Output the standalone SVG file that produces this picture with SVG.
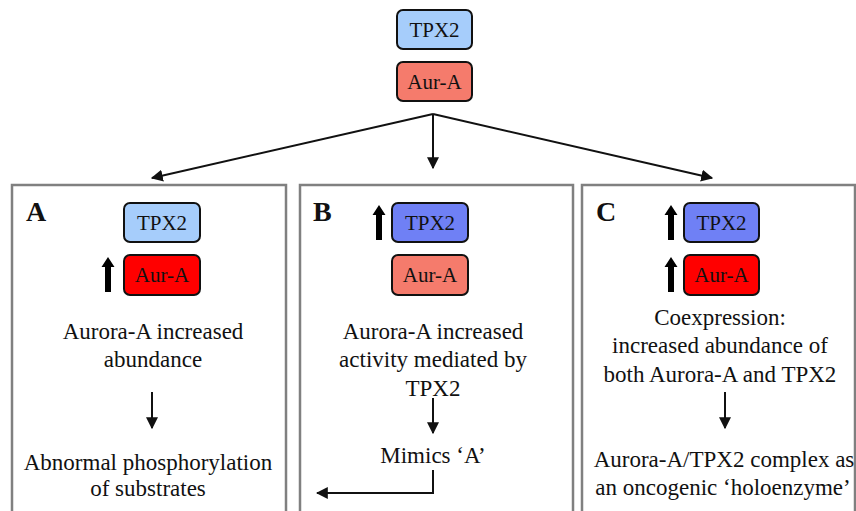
<svg xmlns="http://www.w3.org/2000/svg" width="856" height="511" viewBox="0 0 856 511">
<style>
.node{stroke:#111;stroke-width:2}
.panel{fill:none;stroke:#808080;stroke-width:2.5}
.ln{stroke:#111;stroke-width:2;fill:none}
.up{fill:#000}
.lb{fill:#a6cdfb}.db{fill:#6f80f5}.lr{fill:#f57b6c}.dr{fill:#ff0000}
.s{font-family:'Liberation Serif','Times New Roman',Tinos,serif;fill:#111;text-anchor:middle}
.m{font-size:23px}.k{font-size:21px}
.lab{font-family:'Liberation Serif','Times New Roman',serif;font-size:28px;font-weight:bold;fill:#111}
</style>
<defs>
<marker id="ah" viewBox="0 0 10 10" refX="9" refY="5" markerWidth="6" markerHeight="6" orient="auto"><path d="M0,0L10,5L0,10z" fill="#111"/></marker>
</defs>
<g id="top">
<g id="top-tpx2"><rect class="node lb" x="397" y="10" width="75" height="39" rx="6"/><text class="s k" x="434.5" y="37">TPX2</text></g>
<g id="top-aura"><rect class="node lr" x="397" y="62" width="75" height="39" rx="6"/><text class="s k" x="434.5" y="89">Aur-A</text></g>
</g>
<g id="panelA">
<rect class="panel" x="12" y="185" width="274" height="340"/>
<text class="lab" x="26" y="221">A</text>
<g id="A-tpx2"><rect class="node lb" x="124" y="203" width="76" height="39" rx="6"/><text class="s k" x="162" y="230">TPX2</text></g>
<g id="A-aura"><rect class="node dr" x="124" y="255" width="76" height="40" rx="6"/><text class="s k" x="162" y="282">Aur-A</text></g>
<path class="up" d="M105,292V267H101.5L108,257L114.5,267H111V292z"/>
<text class="s m" x="153" y="339">Aurora-A increased</text>
<text class="s m" x="153" y="367">abundance</text>
<text class="s m" x="148" y="470">Abnormal phosphorylation</text>
<text class="s m" x="148" y="496">of substrates</text>
</g>
<g id="panelB">
<rect class="panel" x="300" y="185" width="273" height="340"/>
<text class="lab" x="313" y="221">B</text>
<g id="B-tpx2"><rect class="node db" x="392" y="203" width="76" height="39" rx="6"/><text class="s k" x="430" y="230">TPX2</text></g>
<g id="B-aura"><rect class="node lr" x="392" y="255" width="76" height="40" rx="6"/><text class="s k" x="430" y="282">Aur-A</text></g>
<path class="up" d="M376,240V215H372.5L379,205L385.5,215H382V240z"/>
<text class="s m" x="433" y="339">Aurora-A increased</text>
<text class="s m" x="433" y="367">activity mediated by</text>
<text class="s m" x="433" y="396">TPX2</text>
<text class="s m" x="433" y="463">Mimics ‘A’</text>
</g>
<g id="panelC">
<rect class="panel" x="582" y="185" width="273" height="340"/>
<text class="lab" x="596" y="221">C</text>
<g id="C-tpx2"><rect class="node db" x="684" y="203" width="75" height="39" rx="6"/><text class="s k" x="721.5" y="230">TPX2</text></g>
<g id="C-aura"><rect class="node dr" x="684" y="255" width="75" height="40" rx="6"/><text class="s k" x="721.5" y="282">Aur-A</text></g>
<path class="up" d="M668,240V215H664.5L671,205L677.5,215H674V240z"/>
<path class="up" d="M668,292V267H664.5L671,257L677.5,267H674V292z"/>
<text class="s m" x="720" y="325">Coexpression:</text>
<text class="s m" x="720" y="353">increased abundance of</text>
<text class="s m" x="720" y="382">both Aurora-A and TPX2</text>
<text class="s m" x="724" y="467">Aurora-A/TPX2 complex as</text>
<text class="s m" x="723" y="495">an oncogenic ‘holoenzyme’</text>
</g>
<g id="connectors">
<path class="ln" d="M433,114L152,178" marker-end="url(#ah)"/>
<path class="ln" d="M433,114V168" marker-end="url(#ah)"/>
<path class="ln" d="M433,114L712,178" marker-end="url(#ah)"/>
<path class="ln" d="M152,392V428" marker-end="url(#ah)"/>
<path class="ln" d="M433,398V433" marker-end="url(#ah)"/>
<path class="ln" d="M725,392V428" marker-end="url(#ah)"/>
<path class="ln" d="M433,470V493H317" marker-end="url(#ah)"/>
</g>
</svg>
